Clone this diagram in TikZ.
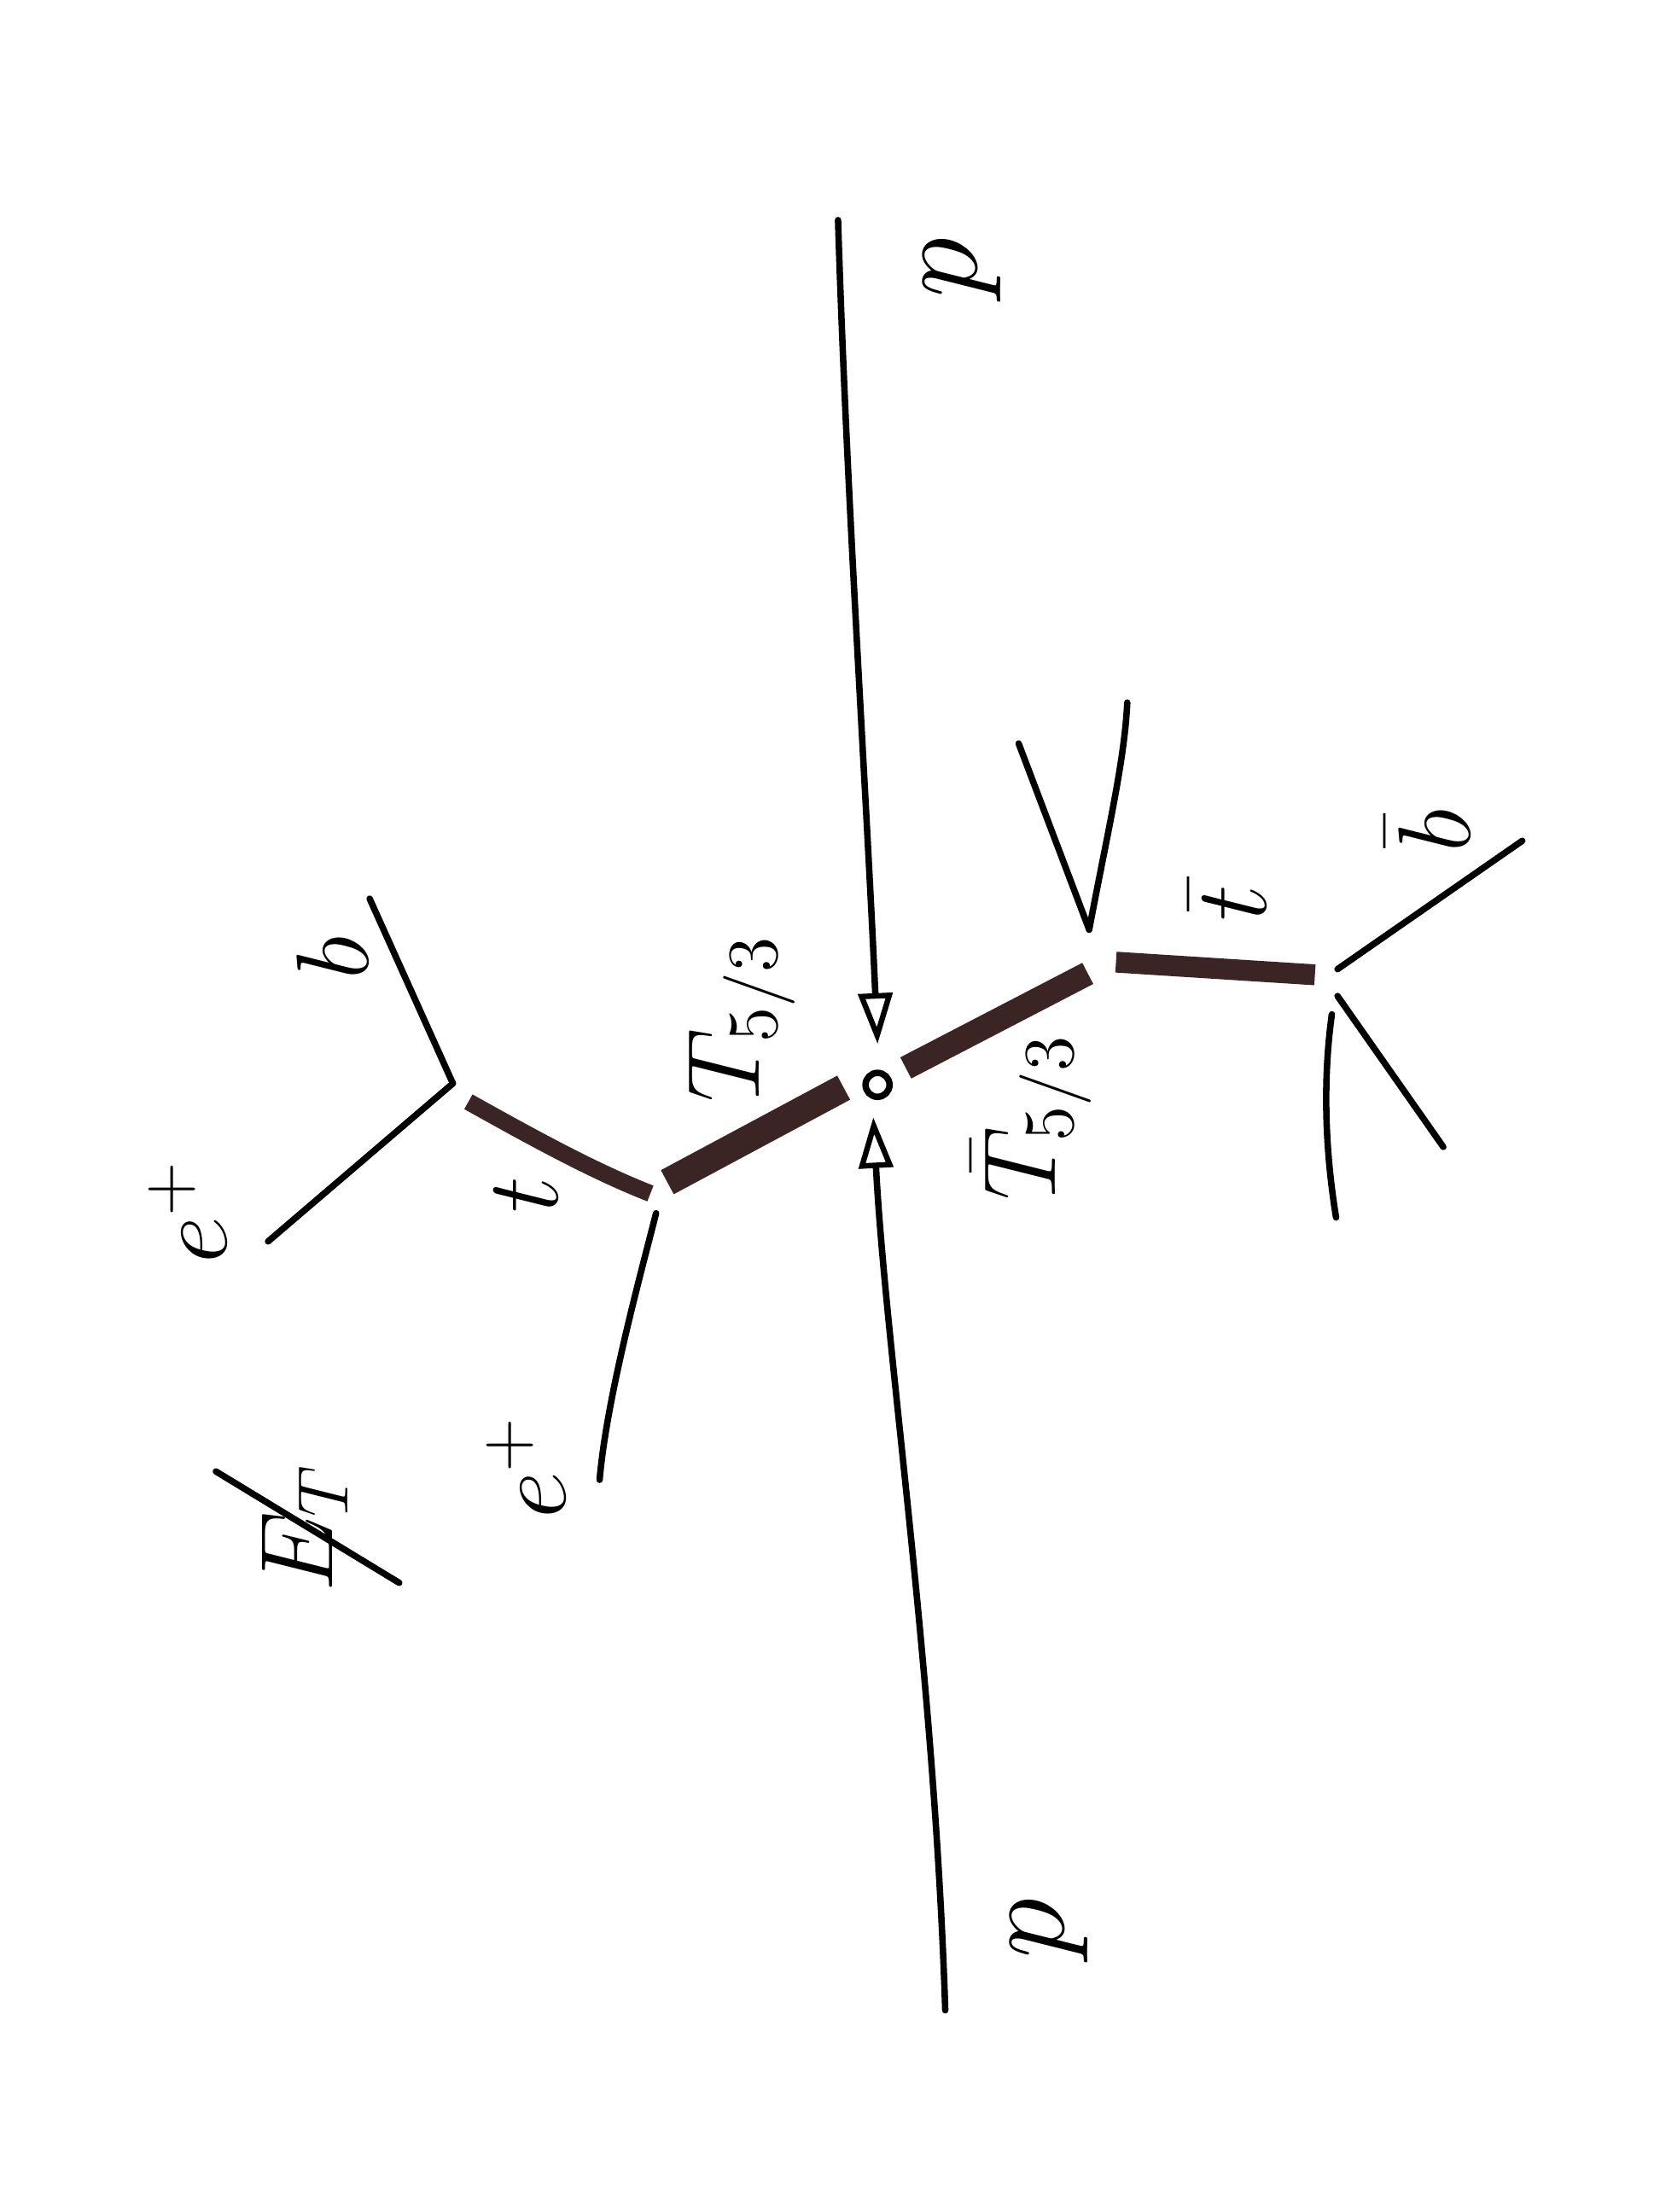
\documentclass[tikz,border=0pt]{standalone}
\usetikzlibrary{arrows.meta}
\definecolor{inkbrown}{RGB}{58,36,36}
\begin{document}
\begin{tikzpicture}[x=0.1mm,y=-0.1mm,
  fer/.style={line width=1.3pt,black,line cap=round},
  heavy/.style={line width=#1,inkbrown,line cap=butt},
  ptip/.style={-{Triangle[open,length=3.6mm,width=2.4mm,line width=1.1pt]}},
  lab/.style={rotate=90,inner sep=0pt,font=\fontsize{22}{26}\selectfont},
  plab/.style={rotate=90,inner sep=0pt,font=\fontsize{30}{34}\selectfont},
  vtx/.style={circle,draw,line width=1.3pt,minimum size=1.7mm,inner sep=0pt}]
\useasboundingbox[fill=white] (0,0) rectangle (1176,1568);
% vertices and end points
\node[vtx] (v) at (622,769) {};
\coordinate (pT) at (594,156);
\coordinate (pTa) at (622,740);
\coordinate (pB) at (670,1425);
\coordinate (pBa) at (619,792);
\coordinate (Ta) at (598,771);
\coordinate (Tb) at (473,838);
\coordinate (ta) at (461,846);
\coordinate (tb) at (332,781);
\coordinate (vb) at (321,768);
\coordinate (bEnd) at (262,637);
\coordinate (eOne) at (190,880);
\coordinate (wStart) at (465,860);
\coordinate (eTwo) at (425,1049);
\coordinate (Tba) at (642,757);
\coordinate (Tbb) at (771,690);
\coordinate (vV) at (772,659);
\coordinate (jOne) at (722,527);
\coordinate (jTwo) at (799,498);
\coordinate (tba) at (791,682);
\coordinate (tbb) at (932,691);
\coordinate (bbS) at (948,687);
\coordinate (bbE) at (1079,596);
\coordinate (jThS) at (948,706);
\coordinate (jThE) at (1023,813);
\coordinate (jFS) at (944,719);
\coordinate (jFE) at (947,863);
% protons
\draw[fer,ptip] (pT) .. controls (600,350) and (614,560) .. (pTa);
\draw[fer,ptip] (pB) .. controls (662,1180) and (628,960) .. (pBa);
% T_{5/3} side
\draw[heavy=5.5pt] (Ta) -- (Tb);
\draw[heavy=3.4pt] (ta) .. controls (420,830) and (375,805) .. (tb);
\draw[fer] (vb) -- (bEnd);
\draw[fer] (vb) -- (eOne);
\draw[fer] (wStart) .. controls (455,900) and (430,990) .. (eTwo);
% anti-T side
\draw[heavy=4.8pt] (Tba) -- (Tbb);
\draw[fer] (vV) -- (jOne);
\draw[fer] (vV) .. controls (785,590) and (797,540) .. (jTwo);
\draw[heavy=4.2pt] (tba) -- (tbb);
\draw[fer] (bbS) -- (bbE);
\draw[fer] (jThS) -- (jThE);
\draw[fer] (jFS) .. controls (937,770) and (940,820) .. (jFE);
% labels
\node[plab] (lpT) at (682,190) {$p$};
\node[plab] (lpB) at (744,1367) {$p$};
\node[lab] (lT) at (526,722) {$T_{5/3}$};
\node[lab] (lTb) at (731,792) {$\bar{T}_{5/3}$};
\node[lab] (lt) at (373,847) {$t$};
\node[lab] (lb) at (236,679) {$b$};
\node[lab] (leOne) at (133,859) {$e^{+}$};
\node[lab] (leTwo) at (373,1040) {$e^{+}$};
\node[lab] (ltb) at (870,640) {$\bar{t}$};
\node[lab] (lbb) at (1012,589) {$\bar{b}$};
\node[lab] (lET) at (216,1083) {$E_T$};
\coordinate (slA) at (153,1043);
\coordinate (slB) at (283,1122);
\draw[fer] (slA) -- (slB);
\end{tikzpicture}
\end{document}
